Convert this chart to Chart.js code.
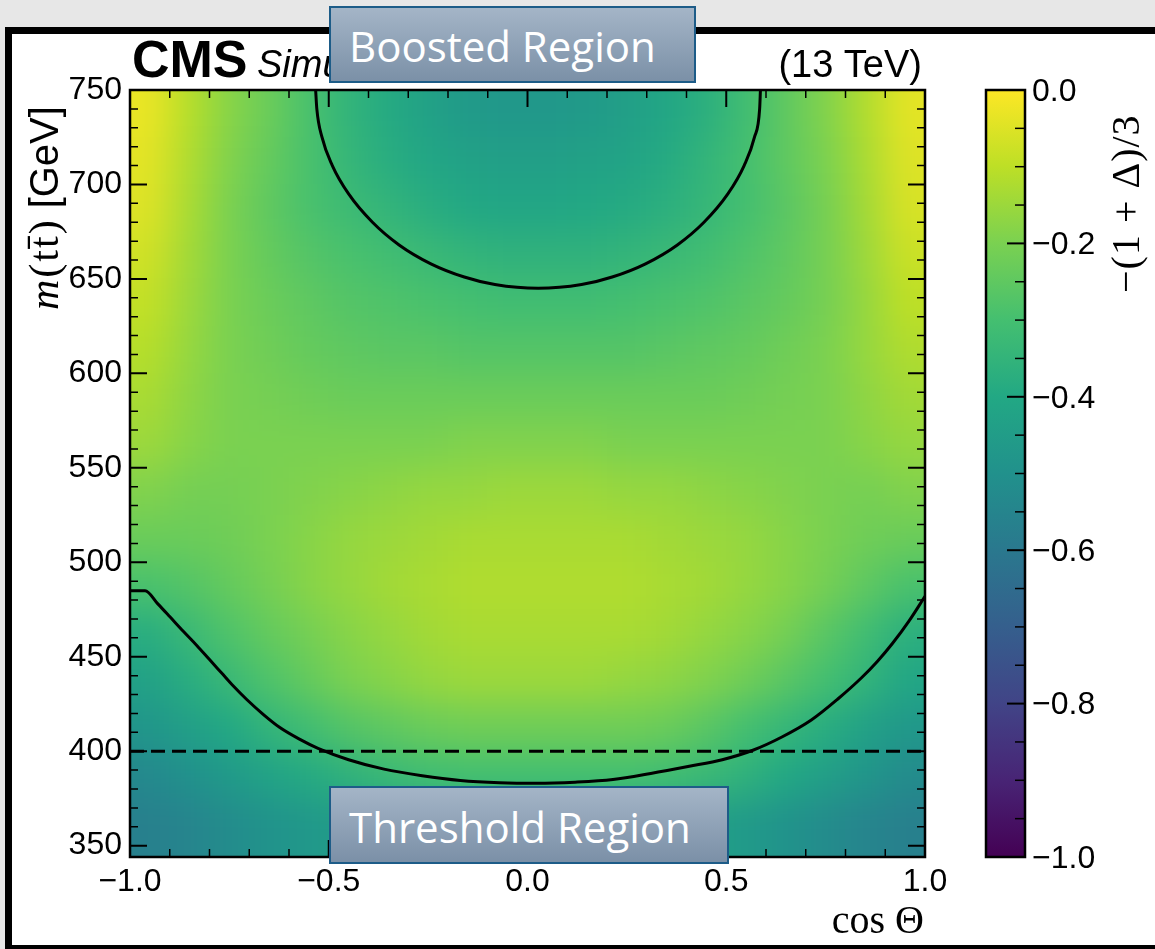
<!DOCTYPE html>
<html>
<head>
<meta charset="utf-8">
<script src="https://cdn.jsdelivr.net/npm/chart.js@4.4.1/dist/chart.umd.min.js"></script>
<style>
  html, body { margin: 0; padding: 0; background: #e7e7e7; overflow: hidden; }
  #frame { position: absolute; left: 5px; top: 27px; width: 1200px; height: 925px; box-sizing: border-box; border: 7px solid #000; background: #fff; }
  #resultsChart { position: absolute; left: 0; top: 0; }
  .region { position: absolute; box-sizing: border-box; border: 2px solid #1d5c88; background: linear-gradient(#a4b5c7, #7b90a7); color: #fff; font-family: "Open Sans", sans-serif; font-size: 42px; padding: 2px 0 0 18px; display: flex; align-items: center; white-space: nowrap; }
</style>
</head>
<body>
<div id="frame"></div>
<canvas id="resultsChart" width="1155" height="949"></canvas>
<div class="region" style="left:329px;top:6px;width:367px;height:77px">Boosted Region</div>
<div class="region" style="left:329px;top:786px;width:400px;height:78px">Threshold Region</div>
<script>
// bin centres of the map (cos theta columns, m(tt) rows from the top down)
const cosBins = [-0.95, -0.85, -0.75, -0.65, -0.55, -0.45, -0.35, -0.25, -0.15, -0.05,
	0.05, 0.15, 0.25, 0.35, 0.45, 0.55, 0.65, 0.75, 0.85, 0.95];
const massBins = [737.5, 712.5, 687.5, 662.5, 637.5, 612.5, 587.5, 562.5,
	537.5, 512.5, 487.5, 462.5, 437.5, 412.5, 387.5, 362.5];
const cosBinWidth = 0.1;
const massBinWidth = 25;

// -(1+Delta)/3 per bin, one row per massBins entry
const spinValues = [
	[-0.03, -0.11, -0.18, -0.23, -0.29, -0.35, -0.39, -0.43, -0.46, -0.47, -0.47, -0.46, -0.44, -0.41, -0.37, -0.31, -0.25, -0.19, -0.12, -0.04],
	[-0.04, -0.12, -0.19, -0.24, -0.29, -0.34, -0.38, -0.41, -0.43, -0.44, -0.44, -0.43, -0.42, -0.39, -0.35, -0.30, -0.25, -0.20, -0.13, -0.05],
	[-0.05, -0.13, -0.20, -0.25, -0.29, -0.32, -0.35, -0.38, -0.40, -0.41, -0.41, -0.40, -0.39, -0.37, -0.34, -0.30, -0.26, -0.21, -0.14, -0.06],
	[-0.07, -0.14, -0.20, -0.24, -0.27, -0.29, -0.31, -0.33, -0.35, -0.36, -0.36, -0.36, -0.35, -0.33, -0.31, -0.28, -0.25, -0.21, -0.15, -0.08],
	[-0.09, -0.15, -0.20, -0.23, -0.25, -0.27, -0.28, -0.29, -0.30, -0.31, -0.31, -0.31, -0.30, -0.29, -0.28, -0.26, -0.24, -0.21, -0.16, -0.10],
	[-0.11, -0.16, -0.20, -0.22, -0.24, -0.25, -0.26, -0.26, -0.27, -0.27, -0.27, -0.27, -0.27, -0.26, -0.25, -0.24, -0.22, -0.20, -0.16, -0.12],
	[-0.13, -0.17, -0.20, -0.21, -0.22, -0.23, -0.23, -0.23, -0.23, -0.23, -0.23, -0.23, -0.23, -0.23, -0.23, -0.22, -0.21, -0.20, -0.17, -0.14],
	[-0.15, -0.18, -0.20, -0.20, -0.20, -0.20, -0.20, -0.20, -0.19, -0.19, -0.19, -0.19, -0.20, -0.20, -0.20, -0.20, -0.20, -0.20, -0.18, -0.16],
	[-0.19, -0.21, -0.21, -0.20, -0.19, -0.18, -0.17, -0.16, -0.16, -0.15, -0.15, -0.15, -0.16, -0.16, -0.17, -0.18, -0.19, -0.20, -0.21, -0.19],
	[-0.23, -0.23, -0.22, -0.20, -0.18, -0.16, -0.15, -0.14, -0.13, -0.13, -0.13, -0.13, -0.13, -0.14, -0.15, -0.16, -0.18, -0.20, -0.22, -0.23],
	[-0.29, -0.27, -0.24, -0.21, -0.18, -0.16, -0.14, -0.13, -0.12, -0.12, -0.12, -0.12, -0.12, -0.13, -0.14, -0.16, -0.18, -0.21, -0.25, -0.29],
	[-0.38, -0.33, -0.28, -0.24, -0.21, -0.18, -0.16, -0.14, -0.13, -0.13, -0.13, -0.13, -0.13, -0.14, -0.16, -0.18, -0.21, -0.26, -0.31, -0.37],
	[-0.43, -0.38, -0.33, -0.28, -0.24, -0.20, -0.18, -0.16, -0.15, -0.15, -0.15, -0.15, -0.16, -0.17, -0.19, -0.22, -0.26, -0.30, -0.35, -0.41],
	[-0.48, -0.44, -0.40, -0.35, -0.31, -0.27, -0.25, -0.23, -0.22, -0.22, -0.22, -0.22, -0.22, -0.23, -0.26, -0.30, -0.34, -0.38, -0.43, -0.47],
	[-0.53, -0.50, -0.46, -0.42, -0.39, -0.36, -0.33, -0.31, -0.30, -0.30, -0.30, -0.30, -0.30, -0.31, -0.33, -0.36, -0.40, -0.44, -0.48, -0.52],
	[-0.57, -0.55, -0.52, -0.49, -0.47, -0.45, -0.43, -0.42, -0.41, -0.41, -0.41, -0.41, -0.41, -0.42, -0.44, -0.46, -0.49, -0.52, -0.55, -0.57]
];

// -1/3 contours
const boostedCos = [-0.533, -0.530, -0.517, -0.491, -0.450, -0.390, -0.323, -0.243, -0.159, -0.082, 0.027, 0.136, 0.213, 0.297, 0.377, 0.444, 0.504, 0.545, 0.571, 0.584, 0.586];
const boostedMass = [750, 740, 725, 710, 695, 680, 668, 658, 651, 647, 645, 647, 651, 658, 668, 680, 695, 710, 725, 740, 750];
const thresholdCos = [-1.0, -0.962, -0.930, -0.899, -0.866, -0.832, -0.800, -0.770, -0.740, -0.707, -0.665, -0.623, -0.575, -0.527, -0.450, -0.361, -0.265, -0.169, -0.070, 0.023, 0.120, 0.215, 0.310, 0.407, 0.490, 0.567, 0.640, 0.714, 0.780, 0.841, 0.880, 0.918, 0.960, 1.0];
const thresholdMass = [485, 485, 478, 471, 463.5, 456, 448.5, 441.5, 434.5, 427.5, 419.5, 412.5, 406.5, 401.5, 395.5, 390.5, 387, 384.5, 383.3, 383, 383.6, 385, 388.2, 392, 395.5, 400.5, 407.5, 416.5, 427.5, 439, 447.5, 457, 469, 482];

// m(tt) = 400 GeV cut
const cutCos = [-1, 1];
const cutMass = [400, 400];

const colourbarTicks = [0, -0.2, -0.4, -0.6, -0.8, -1.0];

const sans = '"Liberation Sans", Arial, sans-serif';
const serif = '"Liberation Serif", "Times New Roman", serif';
const viridis = ["#440154", "#482475", "#414487", "#355f8d", "#2a788e", "#21918c",
	"#22a884", "#44bf70", "#7ad151", "#bddf26", "#fde725"];

function hexToRgb(h) {
	return [parseInt(h.slice(1, 3), 16), parseInt(h.slice(3, 5), 16), parseInt(h.slice(5, 7), 16)];
}

function colourFor(v) {
	const t = Math.min(1, Math.max(0, v + 1)) * (viridis.length - 1);
	const i = Math.min(Math.floor(t), viridis.length - 2);
	const f = t - i;
	const a = hexToRgb(viridis[i]);
	const b = hexToRgb(viridis[i + 1]);
	const c = a.map((ai, k) => Math.round(ai + (b[k] - ai) * f));
	return "rgb(" + c.join(",") + ")";
}

const fmt = (v) => Number(v).toFixed(1).replace("-", "\u2212");

function toPoints(xs, ys) {
	return xs.map((x, i) => ({ x: x, y: ys[i] }));
}

// draws the binned map under the contours, softened like the smooth original
const heatmap = {
	id: "heatmap",
	beforeDatasetsDraw(chart) {
		const { ctx, chartArea: a, scales: { x, y } } = chart;
		const pad = 60;
		const off = document.createElement("canvas");
		off.width = a.width + 2 * pad;
		off.height = a.height + 2 * pad;
		const oc = off.getContext("2d");
		for (let j = 0; j < massBins.length; j++) {
			for (let i = 0; i < cosBins.length; i++) {
				let x0 = x.getPixelForValue(cosBins[i] - cosBinWidth / 2);
				let x1 = x.getPixelForValue(cosBins[i] + cosBinWidth / 2);
				let y0 = y.getPixelForValue(massBins[j] + massBinWidth / 2);
				let y1 = y.getPixelForValue(massBins[j] - massBinWidth / 2);
				// stretch the outer bins so the blur does not fade at the frame
				if (i === 0) x0 -= pad;
				if (i === cosBins.length - 1) x1 += pad;
				if (j === 0) y0 -= pad;
				if (j === massBins.length - 1) y1 += pad;
				oc.fillStyle = colourFor(spinValues[j][i]);
				oc.fillRect(Math.floor(x0 - a.left + pad), Math.floor(y0 - a.top + pad),
					Math.ceil(x1 - x0) + 1, Math.ceil(y1 - y0) + 1);
			}
		}
		ctx.save();
		ctx.beginPath();
		ctx.rect(a.left, a.top, a.width, a.height);
		ctx.clip();
		ctx.filter = "blur(17px)";
		ctx.drawImage(off, a.left - pad, a.top - pad);
		ctx.restore();
	},
};

// frame, inward ticks on all sides and the colour bar
const frame = {
	id: "frame",
	afterDatasetsDraw(chart) {
		const { ctx, chartArea: a, scales: { x, y, cb } } = chart;
		ctx.save();
		ctx.strokeStyle = "#000";
		ctx.lineCap = "butt";
		for (let k = 0; k <= 20; k++) {
			const px = x.getPixelForValue(-1 + k * 0.1);
			const major = k % 5 === 0;
			const len = major ? 17 : 8;
			ctx.lineWidth = major ? 2 : 1.5;
			ctx.beginPath();
			ctx.moveTo(px, a.bottom);
			ctx.lineTo(px, a.bottom - len);
			ctx.moveTo(px, a.top);
			ctx.lineTo(px, a.top + len);
			ctx.stroke();
		}
		for (let m = 350; m <= 750; m += 10) {
			const py = y.getPixelForValue(m);
			const major = m % 50 === 0;
			const len = major ? 17 : 8;
			ctx.lineWidth = major ? 2 : 1.5;
			ctx.beginPath();
			ctx.moveTo(a.left, py);
			ctx.lineTo(a.left + len, py);
			ctx.moveTo(a.right, py);
			ctx.lineTo(a.right - len, py);
			ctx.stroke();
		}
		ctx.lineWidth = 2.5;
		ctx.strokeRect(a.left, a.top, a.width, a.height);

		// colour bar
		const bx0 = 986, bx1 = 1025;
		const top = cb.getPixelForValue(0);
		const bottom = cb.getPixelForValue(-1);
		const grad = ctx.createLinearGradient(0, bottom, 0, top);
		viridis.forEach((c, i) => grad.addColorStop(i / (viridis.length - 1), c));
		ctx.fillStyle = grad;
		ctx.fillRect(bx0, top, bx1 - bx0, bottom - top);
		for (let k = 0; k <= 20; k++) {
			const py = cb.getPixelForValue(-1 + k * 0.05);
			const major = k % 4 === 0;
			ctx.lineWidth = major ? 2 : 1.5;
			ctx.beginPath();
			ctx.moveTo(bx1, py);
			ctx.lineTo(bx1 - (major ? 18 : 10), py);
			ctx.stroke();
		}
		ctx.lineWidth = 2.5;
		ctx.strokeRect(bx0, top, bx1 - bx0, bottom - top);

		ctx.fillStyle = "#000";
		ctx.font = "32px " + sans;
		ctx.textAlign = "left";
		ctx.textBaseline = "middle";
		colourbarTicks.forEach((v) => ctx.fillText(fmt(v), 1032, cb.getPixelForValue(v) + 2));
		ctx.restore();
	},
};

// experiment label and axis titles
const labels = {
	id: "labels",
	afterDraw(chart) {
		const { ctx } = chart;
		ctx.save();
		ctx.fillStyle = "#000";
		ctx.textBaseline = "alphabetic";
		ctx.textAlign = "left";
		ctx.font = "bold 52px " + sans;
		ctx.fillText("CMS", 132, 77);
		ctx.font = "italic 38px " + sans;
		ctx.fillText("Simulation", 257, 77);
		ctx.textAlign = "right";
		ctx.font = "38px " + sans;
		ctx.fillText("(13 TeV)", 922, 77);
		ctx.font = "40px " + serif;
		ctx.fillText("cos \u0398", 924, 933);

		// y title, read bottom to top
		ctx.save();
		ctx.translate(58, 310);
		ctx.rotate(-Math.PI / 2);
		ctx.textAlign = "left";
		let pos = 0;
		ctx.font = "italic 42px " + serif;
		ctx.fillText("m", pos, 0);
		pos += ctx.measureText("m").width + 2;
		ctx.font = "42px " + serif;
		ctx.letterSpacing = "2px";
		ctx.fillText("(tt\u0304)", pos, 0);
		pos += ctx.measureText("(tt\u0304)").width + 10;
		ctx.letterSpacing = "0px";
		ctx.font = "40px " + sans;
		ctx.fillText("[GeV]", pos, 0);
		ctx.restore();

		// colour bar title
		ctx.save();
		ctx.translate(1139, 293);
		ctx.rotate(-Math.PI / 2);
		ctx.textAlign = "left";
		ctx.font = "40px " + serif;
		ctx.letterSpacing = "1px";
		ctx.fillText("\u2212(1 + \u0394)/3", 0, 0);
		ctx.restore();
		ctx.restore();
	},
};

const ctx = document.getElementById("resultsChart");

const curve = {
	showLine: true,
	borderColor: "#000",
	borderWidth: 3,
	pointRadius: 0,
	cubicInterpolationMode: "monotone",
};

new Chart(ctx, {
	type: "scatter",
	data: {
		datasets: [
			Object.assign({ data: toPoints(boostedCos, boostedMass) }, curve),
			Object.assign({ data: toPoints(thresholdCos, thresholdMass) }, curve),
			Object.assign({ data: toPoints(cutCos, cutMass), borderDash: [14, 7] }, curve),
		],
	},
	options: {
		responsive: false,
		animation: false,
		layout: { padding: { left: 0, top: 90, right: 230, bottom: 32 } },
		plugins: { legend: { display: false }, tooltip: { enabled: false } },
		scales: {
			x: {
				type: "linear",
				min: -1,
				max: 1,
				grid: { display: false, drawTicks: false },
				border: { display: false },
				ticks: {
					stepSize: 0.5,
					autoSkip: false,
					maxRotation: 0,
					padding: 6,
					color: "#000",
					font: { family: sans, size: 32 },
					callback: (v) => fmt(v),
				},
				afterFit: (s) => { s.height = 60; },
			},
			y: {
				type: "linear",
				min: 344,
				max: 750,
				grid: { display: false, drawTicks: false },
				border: { display: false },
				ticks: {
					stepSize: 50,
					includeBounds: false,
					autoSkip: false,
					padding: 8,
					color: "#000",
					font: { family: sans, size: 32 },
					callback: (v) => String(v),
				},
				afterFit: (s) => { s.width = 130; },
			},
			cb: { type: "linear", position: "right", display: false, min: -1, max: 0 },
		},
	},
	plugins: [heatmap, frame, labels],
});
</script>
</body>
</html>
